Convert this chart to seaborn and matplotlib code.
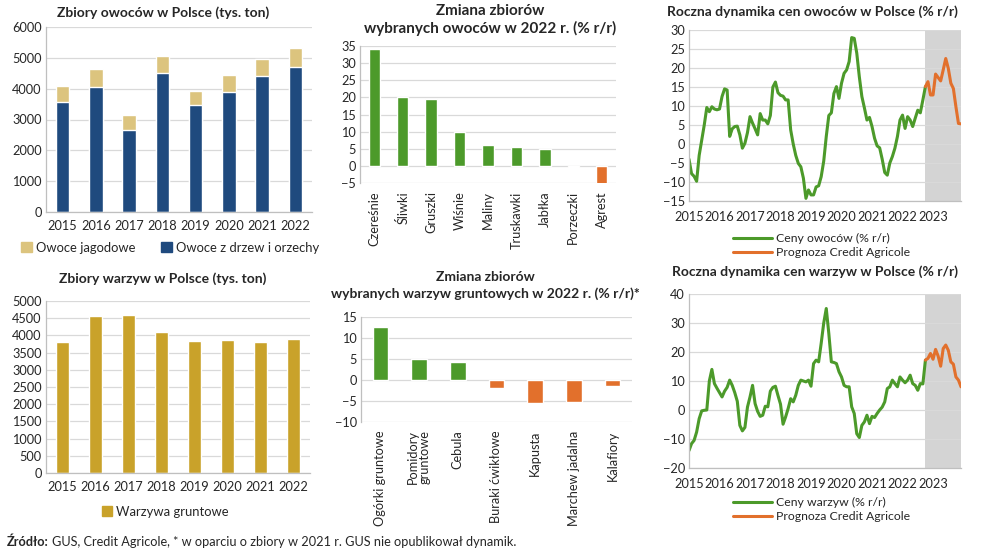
import numpy as np
import pandas as pd
import matplotlib
matplotlib.use("Agg")
import matplotlib.pyplot as plt
import seaborn as sns
from matplotlib.patches import Patch
from matplotlib.lines import Line2D

sns.set_style("white")
plt.rcParams['font.family'] = ['Lato', 'DejaVu Sans']

# --- data ---
years = ['2015', '2016', '2017', '2018', '2019', '2020', '2021', '2022']
fruit_tree = [3580, 4070, 2660, 4500, 3460, 3900, 4410, 4700]
fruit_berry = [520, 580, 490, 570, 480, 550, 560, 610]
veg_harvest = [3800, 4550, 4580, 4100, 3850, 3860, 3800, 3900]

fruit_cats = ['Czereśnie', 'Śliwki', 'Gruszki', 'Wiśnie', 'Maliny', 'Truskawki',
              'Jabłka', 'Porzeczki', 'Agrest']
fruit_change = [34.2, 20.1, 19.5, 10.0, 6.0, 5.5, 4.8, -0.3, -5.3]

veg_cats = ['Ogórki gruntowe', 'Pomidory\ngruntowe', 'Cebula', 'Buraki ćwikłowe',
            'Kapusta', 'Marchew jadalna', 'Kalafiory']
veg_change = [12.6, 5.1, 4.4, -2.0, -5.4, -5.3, -1.4]

# monthly y/y price change, Jan 2015 onwards
fruit_price = [-4, -7.8, -8.5, -9.8, -3, 1, 5, 9.6, 8.5, 9.8, 9.2, 9.0,
               9.2, 12.5, 14.5, 14.2, 2, 4, 4.6, 4.7, 2.4, -1.1, 0.2, 3,
               7.2, 5.5, 4, 2.4, 8, 6.3, 6.3, 5.3, 7.5, 15, 16.3, 13.5,
               12.8, 12.6, 11.6, 11.6, 3.7, 0, -3, -5.1, -6, -9, -14.3, -12.1,
               -13.4, -13.4, -11.3, -11, -8.6, -4.5, 2, 7.5, 8.2, 13.3, 15.1, 12,
               16, 18.6, 19.5, 21.7, 28, 27.8, 23.9, 17.7, 12.5, 9.5, 6.3, 7,
               4.6, 1.5, -0.5, -1, -4, -7.5, -8.2, -5, -3.3, -1.1, 2, 6.3,
               7.6, 4.1, 7.2, 6.3, 4.6, 6.8, 8.9, 8.2, 11.6, 15.1]
fruit_forecast = [15.1, 16.4, 12.9, 12.9, 18.4, 17.5, 16.6, 19.5, 22.5, 19.9,
                  16, 14.6, 9.8, 5.4, 5.3]

veg_price = [-14, -11.6, -10.5, -7.6, -3, -0.3, -0.1, 0, 10, 14, 9.1, 7.5,
             6, 4.5, 6.5, 7.8, 10.3, 8.5, 6, 3, -5.3, -7.2, -6, 1,
             4.5, 8.5, 2.2, -0.5, -2.2, -1.8, 1.3, 1.1, 6.5, 7.8, 8.2, 5,
             2, -4.9, -2.4, 0.5, 3.9, 2.8, 5.1, 8.5, 10.3, 10, 9.7, 10.3,
             8.2, 16, 17.2, 16.6, 23, 30, 35, 26.4, 16.6, 16.4, 16, 13.2,
             11.4, 8.5, 8, 8, 1.1, -1.2, -8.2, -9.5, -5.3, -4.1, -1.8, -4.7,
             -2.2, -2.6, -1.2, 0, 1, 2.8, 7.4, 8, 10.3, 9.1, 8, 11.4,
             10.3, 9.4, 10.3, 12, 9.1, 8.5, 6.8, 9.1, 9, 17.2]
veg_forecast = [17.2, 17.8, 19.5, 17.5, 20.9, 18.6, 15.1, 21.2, 22.4, 20.6,
                16.6, 15.8, 11.4, 10.3, 8]

price_years = ['2015', '2016', '2017', '2018', '2019', '2020', '2021', '2022', '2023']

# --- style ---
NAVY = '#1f4a7e'
TAN = '#dcc47e'
GOLD = '#c9a22a'
GREEN = '#4c9a2a'
ORANGE = '#e2702c'
GRID = '#d9d9d9'
SPINE = '#bfbfbf'
SHADE = '#d4d4d4'
FS = 9.2
TFS = 10

W, H = 983, 550
fig = plt.figure(figsize=(W / 100, H / 100), dpi=100)


def px_axes(l, t, r, b):
    return fig.add_axes([l / W, 1 - b / H, (r - l) / W, (b - t) / H])


def ftext(x, y, s, **kw):
    return fig.text(x / W, 1 - y / H, s, **kw)


def style_axes(ax, ticks):
    ax.set_yticks(ticks)
    ax.set_ylim(ticks[0], ticks[-1])
    ax.grid(axis='y', color=GRID, linewidth=0.9)
    ax.set_axisbelow(True)
    for s in ['top', 'right']:
        ax.spines[s].set_visible(False)
    for s in ['left', 'bottom']:
        ax.spines[s].set_color(SPINE)
        ax.spines[s].set_linewidth(0.9)
    ax.tick_params(axis='y', length=0, labelsize=FS, pad=3)
    ax.tick_params(axis='x', labelsize=FS)
    ax.set_xlabel('')
    ax.set_ylabel('')


def year_bars(ax, n):
    ax.set_xlim(-0.5, n - 0.5)
    ax.set_xticks(np.arange(-0.5, n, 1.0), minor=True)
    ax.tick_params(axis='x', which='major', length=0, pad=6)
    ax.tick_params(axis='x', which='minor', length=4, color=SPINE)


# top-left: stacked fruit harvest
ax1 = px_axes(46, 27, 312, 212)
fruit_total = np.array(fruit_tree) + np.array(fruit_berry)
sns.barplot(x=years, y=fruit_total, color=TAN, width=0.4, saturation=1, ax=ax1)
sns.barplot(x=years, y=fruit_tree, color=NAVY, width=0.4, saturation=1, ax=ax1)
style_axes(ax1, np.arange(0, 6001, 1000))
year_bars(ax1, len(years))
ax1.legend(handles=[Patch(color=TAN, label='Owoce jagodowe'),
                    Patch(color=NAVY, label='Owoce z drzew i orzechy')],
           loc='center', bbox_to_anchor=(170 / W, 1 - 248 / H), bbox_transform=fig.transFigure,
           ncol=2, frameon=False, fontsize=9.4, handlelength=0.8, handleheight=0.8,
           handletextpad=0.3, columnspacing=2.0)
ftext(163, 13, 'Zbiory owoców w Polsce (tys. ton)', ha='center', va='center',
      fontsize=TFS, fontweight='bold')

# bottom-left: vegetable harvest
ax4 = px_axes(46, 301, 310, 473)
sns.barplot(x=years, y=veg_harvest, color=GOLD, width=0.4, saturation=1, ax=ax4)
style_axes(ax4, np.arange(0, 5001, 500))
year_bars(ax4, len(years))
ax4.legend(handles=[Patch(color=GOLD, label='Warzywa gruntowe')],
           loc='center', bbox_to_anchor=(165 / W, 1 - 512 / H), bbox_transform=fig.transFigure,
           frameon=False, fontsize=9.4, handlelength=0.8, handleheight=0.8, handletextpad=0.3)
ftext(163, 279, 'Zbiory warzyw w Polsce (tys. ton)', ha='center', va='center',
      fontsize=TFS, fontweight='bold')


def change_bars(ax, cats, vals, ticks):
    cols = [GREEN if v >= 0 else ORANGE for v in vals]
    sns.barplot(x=cats, y=vals, hue=cats, palette=cols, width=0.4, saturation=1,
                legend=False, ax=ax)
    style_axes(ax, ticks)
    ax.set_xlim(-0.5, len(cats) - 0.5)
    ax.tick_params(axis='x', length=0, pad=6)
    ax.set_xticks(range(len(cats)))
    ax.set_xticklabels(cats, rotation=90, va='top', ha='center', fontsize=FS,
                       linespacing=1.0)
    ax.spines['bottom'].set_visible(False)


# top-middle: fruit change
ax2 = px_axes(360, 46, 616, 183)
change_bars(ax2, fruit_cats, fruit_change, np.arange(-5, 36, 5))
ftext(490, 11, 'Zmiana zbiorów', ha='center', va='center', fontsize=11, fontweight='bold')
ftext(490, 28, 'wybranych owoców w 2022 r. (% r/r)', ha='center', va='center',
      fontsize=11, fontweight='bold')

# bottom-middle: vegetable change
ax5 = px_axes(361, 317, 632, 422)
change_bars(ax5, veg_cats, veg_change, np.arange(-10, 16, 5))
ftext(485, 277, 'Zmiana zbiorów', ha='center', va='center', fontsize=10, fontweight='bold')
ftext(485, 294, 'wybranych warzyw gruntowych w 2022 r. (% r/r)*', ha='center',
      va='center', fontsize=10, fontweight='bold')


def price_chart(ax, hist, fcst, ticks, label, legend_y):
    start = len(hist) - 1
    ax.axvspan(start, start + len(fcst) - 1, color=SHADE, lw=0, zorder=0)
    sns.lineplot(x=np.arange(len(hist)), y=hist, color=GREEN, lw=2.2, ax=ax)
    sns.lineplot(x=np.arange(start, start + len(fcst)), y=fcst, color=ORANGE, lw=2.2, ax=ax)
    style_axes(ax, ticks)
    ax.set_xlim(0, start + len(fcst) - 1)
    ax.set_xticks(np.arange(len(price_years)) * 12)
    ax.set_xticklabels(price_years)
    ax.tick_params(axis='x', length=0, pad=7)
    ax.legend(handles=[Line2D([], [], color=GREEN, lw=2.2, label=label),
                       Line2D([], [], color=ORANGE, lw=2.2, label='Prognoza Credit Agricole')],
              loc='upper left', bbox_to_anchor=(727 / W, 1 - legend_y / H),
              bbox_transform=fig.transFigure, frameon=False, fontsize=8.8,
              handlelength=3.2, handletextpad=0.3, labelspacing=0.25, borderpad=0)


# top-right: fruit prices
ax3 = px_axes(689, 30, 961, 201)
price_chart(ax3, fruit_price, fruit_forecast, np.arange(-15, 31, 5), 'Ceny owoców (% r/r)', 227)
ftext(812, 12, 'Roczna dynamika cen owoców w Polsce (% r/r)', ha='center', va='center',
      fontsize=TFS, fontweight='bold')

# bottom-right: vegetable prices
ax6 = px_axes(689, 294, 961, 468)
price_chart(ax6, veg_price, veg_forecast, np.arange(-20, 41, 10), 'Ceny warzyw (% r/r)', 491)
ftext(815, 272, 'Roczna dynamika cen warzyw w Polsce (% r/r)', ha='center', va='center',
      fontsize=TFS, fontweight='bold')

# footer
lead = ftext(7, 542, 'Źródło:', ha='left', va='center', fontsize=9.2, fontweight='bold')
fig.canvas.draw()
lead_end = lead.get_window_extent().x1
ftext(lead_end + 3, 542,
      'GUS, Credit Agricole, * w oparciu o zbiory w 2021 r. GUS nie opublikował dynamik.',
      ha='left', va='center', fontsize=9.2)

fig.savefig('out.png', dpi=100, facecolor='white')
